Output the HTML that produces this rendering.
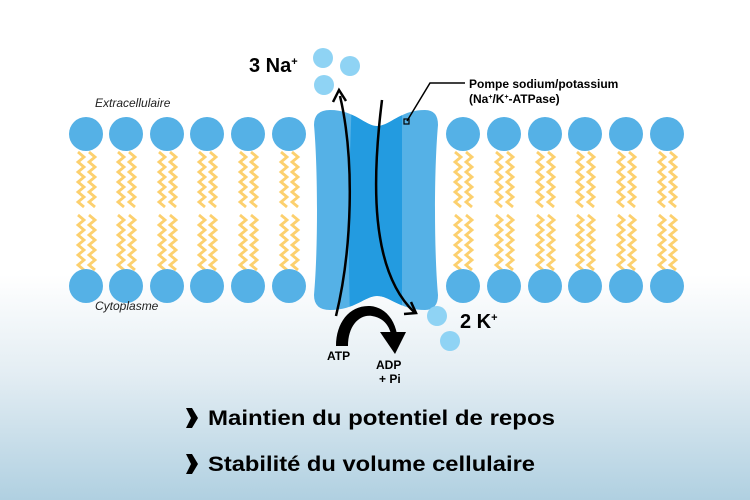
<!DOCTYPE html>
<html><head><meta charset="utf-8"><style>
html,body{margin:0;padding:0;width:750px;height:500px;overflow:hidden;}
svg{display:block;font-family:"Liberation Sans",sans-serif;}
</style></head><body>
<svg width="750" height="500" viewBox="0 0 750 500" xmlns="http://www.w3.org/2000/svg">
<defs>
<linearGradient id="bg" x1="0" y1="0" x2="0" y2="1">
<stop offset="0" stop-color="#ffffff"/>
<stop offset="0.55" stop-color="#ffffff"/>
<stop offset="0.75" stop-color="#e3edf3"/>
<stop offset="1" stop-color="#b0d0e1"/>
</linearGradient>
<path id="tail" d="M0,0 l6,5 l-6,5 l6,5 l-6,5 l6,5 l-6,5 l6,5 l-6,5 l6,5 l-6,5 l6,5" fill="none" stroke="#fcd06e" stroke-width="2.8"/>
<g id="lipid">
<use href="#tail" x="-8" y="152"/><use href="#tail" x="3" y="152"/>
<use href="#tail" x="-8" y="215"/><use href="#tail" x="3" y="215"/>
<circle cx="0" cy="134" r="17" fill="#55b1e6"/>
<circle cx="0" cy="286" r="17" fill="#55b1e6"/>
</g>
<clipPath id="pc"><path d="M330,110 C355,110 365,126 377,126 C390,126 400,110 425,110 Q438,110 438,125 C434,170 434,250 438,295 Q438,310 425,310 C400,310 390,296 377,296 C365,296 355,310 330,310 Q314,310 314,295 C318,250 318,170 314,125 Q314,110 330,110 Z"/></clipPath>
</defs>
<rect width="750" height="500" fill="url(#bg)"/>
<use href="#lipid" x="86"/><use href="#lipid" x="126"/><use href="#lipid" x="167"/><use href="#lipid" x="207"/><use href="#lipid" x="248"/><use href="#lipid" x="289"/>
<use href="#lipid" x="463"/><use href="#lipid" x="504"/><use href="#lipid" x="545"/><use href="#lipid" x="585"/><use href="#lipid" x="626"/><use href="#lipid" x="667"/>
<path d="M330,110 C355,110 365,126 377,126 C390,126 400,110 425,110 Q438,110 438,125 C434,170 434,250 438,295 Q438,310 425,310 C400,310 390,296 377,296 C365,296 355,310 330,310 Q314,310 314,295 C318,250 318,170 314,125 Q314,110 330,110 Z" fill="#55b1e6"/>
<g clip-path="url(#pc)"><path d="M352,100 L402,100 L402,320 L350,320 Q347,210 352,100 Z" fill="#239be0"/></g>
<path d="M336,316 C352,250 355,160 340,96" fill="none" stroke="#000" stroke-width="2.5"/>
<path d="M333,102 L339,90 L346,101" fill="none" stroke="#000" stroke-width="2.5"/>
<path d="M382,100 C372,180 370,270 414,312" fill="none" stroke="#000" stroke-width="2.5"/>
<path d="M404,314 L416,313 L411,302" fill="none" stroke="#000" stroke-width="2.5"/>
<path d="M336,346 L348,346 C348,325 360,314 372,316 C384,318 389,326 391,334 L397,334 C394,318 384,307 370,306 C350,305 336,322 336,346 Z" fill="#000"/>
<path d="M380,332 L406,332 L395,354 Z" fill="#000"/>
<text x="327" y="360" font-size="12" font-weight="bold">ATP</text>
<text x="376" y="369" font-size="12" font-weight="bold">ADP</text>
<text x="379" y="383" font-size="12" font-weight="bold">+ Pi</text>
<g fill="#8fd3f4"><circle cx="323" cy="58" r="10"/><circle cx="350" cy="66" r="10"/><circle cx="324" cy="85" r="10"/><circle cx="437" cy="316" r="10"/><circle cx="450" cy="341" r="10"/></g>
<text x="249" y="72" font-size="20" font-weight="bold">3 Na<tspan font-size="11" dy="-7">+</tspan></text>
<text x="460" y="328" font-size="20" font-weight="bold">2 K<tspan font-size="11" dy="-7">+</tspan></text>
<path d="M407,121 L430,83 L465,83" fill="none" stroke="#000" stroke-width="1.5"/>
<rect x="404" y="119" width="5" height="5" fill="none" stroke="#000" stroke-width="1.2"/>
<text x="469" y="88" font-size="12" font-weight="bold">Pompe sodium/potassium</text>
<text x="469" y="103" font-size="12" font-weight="bold">(Na<tspan font-size="7" dy="-4">+</tspan><tspan dy="4">/K</tspan><tspan font-size="7" dy="-4">+</tspan><tspan dy="4">-ATPase)</tspan></text>
<text x="95" y="107" font-size="12" font-style="italic" fill="#222">Extracellulaire</text>
<text x="95" y="310" font-size="12" font-style="italic" fill="#222">Cytoplasme</text>
<path d="M186,408 L192,408 L198,418 L192,428 L186,428 L191,418 Z" fill="#000"/>
<path d="M186,454 L192,454 L198,464 L192,474 L186,474 L191,464 Z" fill="#000"/>
<text x="208" y="425" font-size="21" font-weight="bold" textLength="347" lengthAdjust="spacingAndGlyphs">Maintien du potentiel de repos</text>
<text x="208" y="471" font-size="21" font-weight="bold" textLength="327" lengthAdjust="spacingAndGlyphs">Stabilité du volume cellulaire</text>
</svg>
</body></html>
